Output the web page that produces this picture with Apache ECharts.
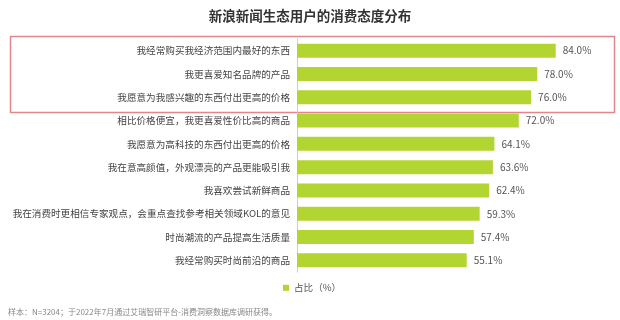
<!DOCTYPE html>
<html><head><meta charset="utf-8">
<script src="https://cdn.jsdelivr.net/npm/echarts@6/dist/echarts.min.js"></script>
<style>html,body{margin:0;padding:0;background:#fff}#c{width:620px;height:320px}</style>
</head><body><div id="c"></div>
<script>
var categories = [
  "我经常购买我经济范围内最好的东西",
  "我更喜爱知名品牌的产品",
  "我愿意为我感兴趣的东西付出更高的价格",
  "相比价格便宜，我更喜爱性价比高的商品",
  "我愿意为高科技的东西付出更高的价格",
  "我在意高颜值，外观漂亮的产品更能吸引我",
  "我喜欢尝试新鲜商品",
  "我在消费时更相信专家观点，会重点查找参考相关领域KOL的意见",
  "时尚潮流的产品提高生活质量",
  "我经常购买时尚前沿的商品"
];
var values = [84.0, 78.0, 76.0, 72.0, 64.1, 63.6, 62.4, 59.3, 57.4, 55.1];
var seriesName = "占比（%）";
var title = "新浪新闻生态用户的消费态度分布";
var note = "样本：N=3204；于2022年7月通过艾瑞智研平台-消费洞察数据库调研获得。";

var chart = echarts.init(document.getElementById('c'), null, {renderer: 'canvas'});
var font = '"Noto Sans CJK SC", "Noto Sans", sans-serif';
chart.setOption({
  animation: false,
  textStyle: {fontFamily: font},
  title: {text: title, left: 'center', top: 4,
    textStyle: {fontSize: 13.5, fontWeight: 'bold', color: '#333', fontFamily: font}},
  legend: {data: [seriesName], left: 283, top: 283, padding: 0, itemWidth: 6, itemHeight: 6, itemGap: 4,
    icon: 'rect', textStyle: {fontSize: 9.6, color: '#555', fontFamily: font}},
  grid: {left: 297, top: 39, width: 308, height: 233, containLabel: false, outerBoundsMode: 'none'},
  xAxis: {type: 'value', min: 0, max: 100, show: false},
  yAxis: {type: 'category', data: categories, inverse: true,
    axisLine: {show: true, lineStyle: {color: '#ccc', width: 1}},
    axisTick: {show: false}, splitLine: {show: false},
    axisLabel: {fontSize: 9.6, color: '#444', margin: 7, fontFamily: font}},
  series: [{
    name: seriesName, type: 'bar', data: values, barWidth: 14,
    itemStyle: {color: '#b3d531'},
    label: {show: true, position: 'right', distance: 7, fontSize: 10, color: '#555',
      fontFamily: font, formatter: function(p){ return p.value.toFixed(1) + '%'; }}
  }],
  graphic: [
    {type: 'rect', left: 8, top: 34, shape: {width: 604, height: 76},
      style: {fill: 'none', stroke: '#e3868b', lineWidth: 1.5}},
    {type: 'text', left: 8, top: 308,
      style: {text: note, fontSize: 8, fill: '#888', fontFamily: font}}
  ]
});
</script></body></html>
